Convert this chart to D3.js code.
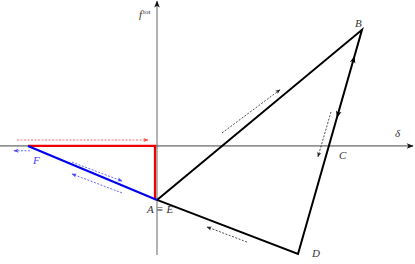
<!DOCTYPE html>
<html>
<head>
<meta charset="utf-8">
<script src="https://cdn.jsdelivr.net/npm/d3@7"></script>
<style>
  body { margin: 0; background: #fff; }
  text { font-family: "Liberation Serif", serif; font-style: italic; }
</style>
</head>
<body>
<svg id="chart" width="415" height="264"></svg>
<script>
// key points of the loop (delta, f)
var pointNames = ["A", "B", "C", "D", "F", "G"];
var pointX = [0, 4.1, 3.44, 2.82, -2.58, -0.04];
var pointY = [-1, 2.15, 0, -2.0, 0, 0];

// label positions (delta, f)
var labelText = ["B", "C", "D", "F"];
var labelX = [3.96, 3.64, 3.1, -2.48];
var labelY = [2.2, -0.24, -2.06, -0.34];

// dashed direction arrows
var dashX1 = [-2.8, -2.54, -1.7, -0.7, 1.3, 3.48, 1.8];
var dashY1 = [0.11, -0.09, -0.3, -0.87, 0.24, 0.63, -1.78];
var dashX2 = [-0.18, -2.86, -0.7, -1.7, 2.46, 3.22, 1.0];
var dashY2 = [0.11, -0.09, -0.65, -0.52, 1.04, -0.2, -1.5];
var dashColour = ["#f44", "#44f", "#44f", "#44f", "#222", "#222", "#222"];

var svg = d3.select("#chart");

var x = d3.scaleLinear().domain([-3.14, 5.06]).range([0, 410]);
var y = d3.scaleLinear().domain([2.61, -2.02]).range([5, 255]);

var defs = svg.append("defs");
function addMarker(id, colour, w, h) {
    defs.append("marker")
        .attr("id", id)
        .attr("viewBox", "0 0 10 10")
        .attr("refX", 9).attr("refY", 5)
        .attr("markerWidth", w).attr("markerHeight", h)
        .attr("markerUnits", "userSpaceOnUse")
        .attr("orient", "auto")
        .append("path")
        .attr("d", "M0,1 L10,5 L0,9 L2.5,5 Z")
        .attr("fill", colour);
}
addMarker("axisHead", "#111", 9, 7);
addMarker("blackHead", "#222", 6, 5);
addMarker("redHead", "#f44", 6, 5);
addMarker("blueHead", "#44f", 6, 5);
addMarker("solidHead", "#000", 9, 7);

var markerFor = { "#f44": "redHead", "#44f": "blueHead", "#222": "blackHead" };

function pt(name) {
    var i = pointNames.indexOf(name);
    return [pointX[i], pointY[i]];
}

var line = d3.line().x(d => x(d[0])).y(d => y(d[1]));

// axes
svg.append("line")
    .attr("x1", x(0)).attr("y1", y(-2.02))
    .attr("x2", x(0)).attr("y2", y(2.68))
    .attr("stroke", "#a0a0a0").attr("stroke-width", 1.6)
    .attr("marker-end", "url(#axisHead)");
svg.append("line")
    .attr("x1", x(-3.14)).attr("y1", y(0))
    .attr("x2", x(5.12)).attr("y2", y(0))
    .attr("stroke", "#444").attr("stroke-width", 1)
    .attr("marker-end", "url(#axisHead)");

// black loop A -> B -> D -> A (through C)
svg.append("path")
    .attr("d", line([pt("A"), pt("B"), pt("D"), pt("A")]))
    .attr("fill", "none").attr("stroke", "#000").attr("stroke-width", 2)
    .attr("stroke-linejoin", "miter");

// red path F -> G -> down to A level
svg.append("path")
    .attr("d", line([pt("F"), pt("G"), [pointX[5], pointY[0]]]))
    .attr("fill", "none").attr("stroke", "#e00").attr("stroke-width", 2.2);

// blue path F -> A
svg.append("path")
    .attr("d", line([pt("F"), pt("A")]))
    .attr("fill", "none").attr("stroke", "#00e").attr("stroke-width", 2.2);

// solid arrow heads on segment B-D
var b = pt("B"), d = pt("D");
[[0.88, 1], [0.61, -1]].forEach(function(a) {
    var t = a[0];
    var px = d[0] + (b[0] - d[0]) * t, py = d[1] + (b[1] - d[1]) * t;
    var dx = (b[0] - d[0]) * 0.02 * a[1], dy = (b[1] - d[1]) * 0.02 * a[1];
    svg.append("line")
        .attr("x1", x(px - dx)).attr("y1", y(py - dy))
        .attr("x2", x(px)).attr("y2", y(py))
        .attr("stroke", "none")
        .attr("marker-end", "url(#solidHead)");
});

// dashed direction arrows
svg.selectAll(".dash")
    .data(dashX1.map((v, i) => i))
    .enter().append("line")
    .attr("class", "dash")
    .attr("x1", i => x(dashX1[i])).attr("y1", i => y(dashY1[i]))
    .attr("x2", i => x(dashX2[i])).attr("y2", i => y(dashY2[i]))
    .attr("stroke", i => dashColour[i])
    .attr("stroke-width", 0.8)
    .attr("stroke-dasharray", "2,1.5")
    .attr("marker-end", i => "url(#" + markerFor[dashColour[i]] + ")");

// point labels
svg.selectAll(".lbl")
    .data(labelText)
    .enter().append("text")
    .attr("class", "lbl")
    .attr("x", (t, i) => x(labelX[i]))
    .attr("y", (t, i) => y(labelY[i]))
    .attr("font-size", 11)
    .attr("fill", t => t === "F" ? "#44f" : "#333")
    .text(t => t);

svg.append("text")
    .attr("x", x(-0.2)).attr("y", y(-1.24))
    .attr("font-size", 11).attr("fill", "#333")
    .text("A \u2261 E");

// axis labels
var fl = svg.append("text")
    .attr("x", x(-0.36)).attr("y", y(2.37))
    .attr("font-size", 11).attr("fill", "#333");
fl.append("tspan").text("f");
fl.append("tspan").attr("dy", -4).attr("dx", 1).attr("font-size", 7).attr("font-style", "normal").text("tot");

svg.append("text")
    .attr("x", x(4.76)).attr("y", y(0.17))
    .attr("font-size", 11).attr("fill", "#333")
    .text("\u03b4");
</script>
</body>
</html>
